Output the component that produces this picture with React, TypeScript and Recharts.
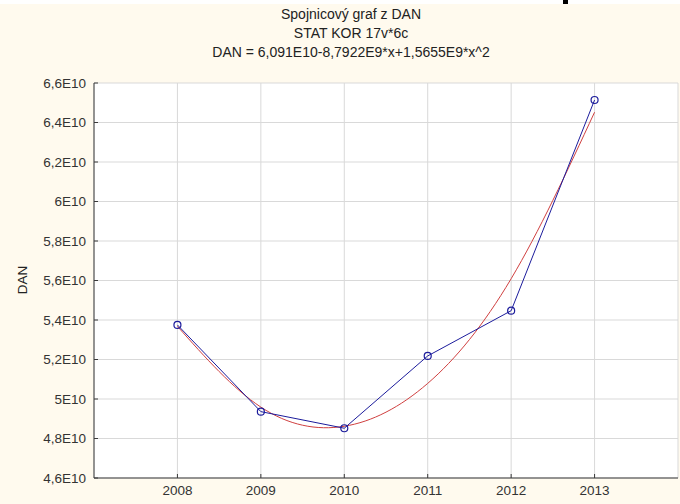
import React from 'react';
import { LineChart, Line, XAxis, YAxis, CartesianGrid } from 'recharts';

// years on the x axis
const years = [2008, 2009, 2010, 2011, 2012, 2013];
// observed DAN values
const dan = [5.375e10, 4.936e10, 4.852e10, 5.218e10, 5.447e10, 6.514e10];
// quadratic fit values at each year (x = 1..6)
const danFit = [5.368e10, 4.959e10, 4.862e10, 5.079e10, 5.609e10, 6.452e10];

const yTicks = [4.6e10, 4.8e10, 5.0e10, 5.2e10, 5.4e10, 5.6e10, 5.8e10, 6.0e10, 6.2e10, 6.4e10, 6.6e10];
const xTicks = [2008, 2009, 2010, 2011, 2012, 2013];

const titleLines = [
  'Spojnicový graf z DAN',
  'STAT KOR 17v*6c',
  'DAN = 6,091E10-8,7922E9*x+1,5655E9*x^2',
];

const FONT = '"Liberation Sans", Arial, sans-serif';
const BG = '#FFFAEE';
const AXIS = '#3a3a3a';

const fmtE10 = (v: number) => {
  const s = (v / 1e10).toFixed(1).replace(/\.0$/, '').replace('.', ',');
  return `${s}E10`;
};

const chartData = years.map((year, i) => ({
  year,
  dan: dan[i],
  fit: danFit[i],
}));

const App: React.FC = () => {
  const tickStyle = { fontSize: 13.5, fill: '#333', fontFamily: FONT };
  return (
    <div style={{ position: 'fixed', left: 0, top: 0, width: 680, height: 504, background: BG, fontFamily: FONT }}>
      <div style={{ position: 'absolute', left: 0, top: 0, width: 680, height: 4, background: '#fff' }} />
      <div style={{ position: 'absolute', left: 563, top: 0, width: 5, height: 4, background: '#000' }} />
      {titleLines.map((t, i) => (
        <div
          key={t}
          style={{
            position: 'absolute',
            left: 0,
            width: 702,
            top: 6 + i * 19,
            textAlign: 'center',
            fontSize: 14,
            color: '#222',
            lineHeight: '17px',
          }}
        >
          {t}
        </div>
      ))}
      <div
        style={{
          position: 'absolute',
          left: 22,
          top: 280,
          transform: 'translate(-50%, -50%) rotate(-90deg)',
          fontSize: 13.5,
          color: '#222',
        }}
      >
        DAN
      </div>
      <div style={{ position: 'absolute', left: 0, top: 0 }}>
        <LineChart width={680} height={504} data={chartData} margin={{ top: 83, right: 2, bottom: 0, left: 0 }}>
          <CartesianGrid xAxisId="bottom" yAxisId="left" stroke="#d9d9d9" fill="#fff" />
          <XAxis
            xAxisId="bottom"
            dataKey="year"
            type="number"
            domain={[2007, 2014]}
            ticks={xTicks}
            height={26}
            stroke={AXIS}
            tickSize={-4}
            tickMargin={11}
            tick={tickStyle}
          />
          <XAxis
            xAxisId="top"
            orientation="top"
            dataKey="year"
            type="number"
            domain={[2007, 2014]}
            ticks={xTicks}
            height={0}
            stroke={AXIS}
            tickSize={-4}
            tickFormatter={() => ''}
          />
          <YAxis
            yAxisId="left"
            type="number"
            domain={[4.6e10, 6.6e10]}
            ticks={yTicks}
            width={94}
            stroke={AXIS}
            tickSize={-4}
            tickMargin={12}
            tickFormatter={fmtE10}
            tick={tickStyle}
          />
          <YAxis
            yAxisId="right"
            orientation="right"
            type="number"
            domain={[4.6e10, 6.6e10]}
            ticks={yTicks}
            width={0}
            stroke={AXIS}
            tickSize={-4}
            tickFormatter={() => ''}
          />
          <Line
            xAxisId="bottom"
            yAxisId="left"
            type="natural"
            dataKey="fit"
            stroke="#d04040"
            strokeWidth={1}
            dot={false}
            isAnimationActive={false}
          />
          <Line
            xAxisId="bottom"
            yAxisId="left"
            type="linear"
            dataKey="dan"
            stroke="#1c1c9c"
            strokeWidth={1}
            dot={{ r: 3.5, stroke: '#1c1c9c', strokeWidth: 1.2, fill: 'none' }}
            isAnimationActive={false}
          />
        </LineChart>
      </div>
    </div>
  );
};

export default App;
